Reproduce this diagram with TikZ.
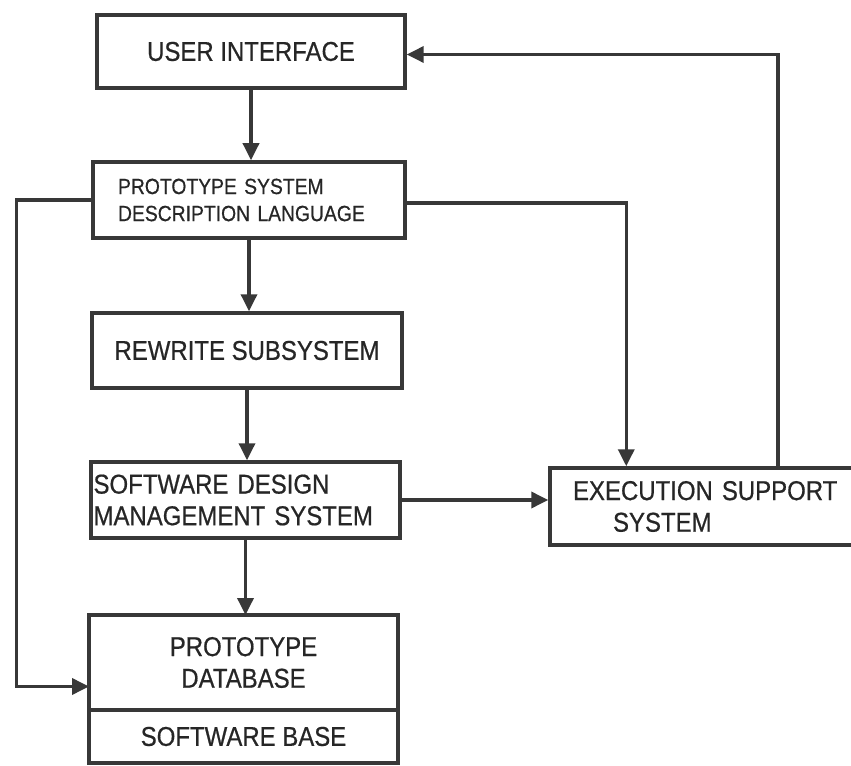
\documentclass[tikz,border=0pt]{standalone}
\usepackage{fontspec}
\setmainfont{Liberation Sans}
\newfontfamily\boxfont[FakeStretch=0.88,FakeBold=0.6]{Liberation Sans}
\usetikzlibrary{arrows.meta}
\definecolor{ink}{HTML}{383838}
\tikzset{
  blk/.style={draw=ink, line width=2pt, inner sep=0pt, text=black!85,
    font=\boxfont\fontsize{15.5}{18}\selectfont},
  link/.style={draw=ink, line width=2pt,
    -{Triangle[length=0.34cm,width=0.32cm]}},
}
\begin{document}
\begin{tikzpicture}[x=0.02cm,y=-0.02cm]
        \useasboundingbox (0,0) rectangle (851,766);

        % main column
        \node[blk, minimum width=6.16cm, minimum height=1.46cm] (ui) at (251,51.5) {USER INTERFACE};
        \node[blk, minimum height=1.52cm, text width=5.24cm, inner xsep=0.5cm, align=left,
              font=\boxfont\fontsize{12.5}{15.4}\selectfont] (psdl) at (249,200)
              {PROTOTYPE SYSTEM\\DESCRIPTION LANGUAGE};
        \node[blk, minimum width=6.2cm, minimum height=1.5cm] (rewrite) at (247,350.5) {REWRITE SUBSYSTEM};
        \node[blk, minimum height=1.52cm, text width=6.08cm, inner xsep=0.05cm, align=left] (sdms) at (245.5,500)
              {SOFTWARE DESIGN\\MANAGEMENT SYSTEM};

        % database with its lower part
        \node[blk, outer sep=0pt, minimum width=6.18cm, minimum height=1.9cm, align=center] (dbtop) at (243.5,662.5)
              {PROTOTYPE\\DATABASE};
        \node[blk, outer sep=0pt, minimum width=6.18cm, minimum height=1.06cm, anchor=north] (dbbot) at (dbtop.south)
              {SOFTWARE BASE};

        % execution support, cut by the right edge
        \node[blk, minimum height=1.54cm, text width=5.48cm, inner xsep=0.46cm, align=left] (ess) at (710,506.5)
              {EXECUTION SUPPORT\\\hspace*{0.8cm}SYSTEM};

        % connectors
        \draw[link] (ui.south) -- (ui.south |- psdl.north);
        \draw[link] (psdl.south) -- (psdl.south |- rewrite.north);
        \draw[link] (rewrite.south) -- (rewrite.south |- sdms.north);
        \draw[link] (sdms.south) -- (sdms.south |- dbtop.north);
        \draw[link] (psdl.west) -- ++(-75,0) |- ([yshift=-0.48cm]dbtop.west);
        \draw[link] ([yshift=-0.06cm]psdl.east) -| ([xshift=1.56cm]ess.north west);
        \draw[link] (sdms.east) -- (sdms.east -| ess.west);
        \draw[link] ([xshift=4.6cm]ess.north west) |- ([yshift=-0.06cm]ui.east);
\end{tikzpicture}
\end{document}
